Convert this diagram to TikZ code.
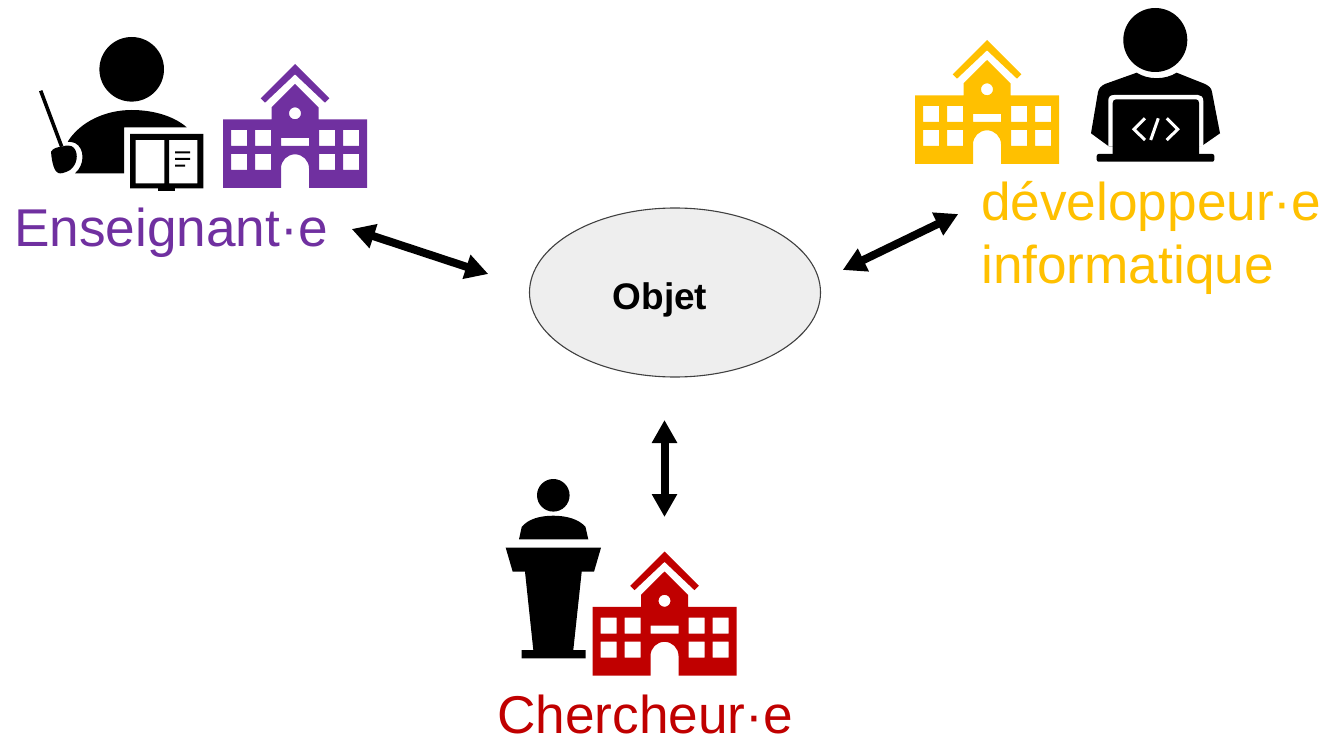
\documentclass[tikz,border=0pt]{standalone}
\usepackage{fontspec}
\setmainfont{Liberation Sans}
\usetikzlibrary{arrows.meta,shapes.geometric}
\definecolor{cpurple}{HTML}{7030A0}
\definecolor{cyellow}{HTML}{FFC000}
\definecolor{cred}{HTML}{C00000}
\definecolor{cobj}{HTML}{EEEEEE}
\tikzset{
 role/.style={inner sep=0pt,anchor=base west,font=\fontsize{53.2}{53.2}\selectfont},
 link/.style={line width=8pt,{Triangle[length=23pt,width=24pt]}-{Triangle[length=23pt,width=24pt]}},
 school/.pic={
  \fill[pic actions] (-34.3,34.3)--(0,0)--(34.3,34.3)--(30,38.7)--(0,10.3)--(-30,38.7)--cycle;
  \fill[pic actions,even odd rule] (0,20)--(-23.5,43.3)--(-23.5,55.3)--(-72,55.3)--(-72,124)--(-14,124)--(-14,104.3) arc[start angle=180,end angle=360,radius=14]--(14,124)--(72,124)--(72,55.3)--(23.5,55.3)--(23.5,43.3)--cycle
   (0,49.3) circle[radius=6]
   (-64,66) rectangle (-48,82) (-40,66) rectangle (-24,82) (24,66) rectangle (40,82) (48,66) rectangle (64,82)
   (-64,90) rectangle (-48,106) (-40,90) rectangle (-24,106) (24,90) rectangle (40,106) (48,90) rectangle (64,106)
   (-14,74) rectangle (14,82);
 }
}
\begin{document}
\begin{tikzpicture}[x=1pt,y=-1pt]
\useasboundingbox (0,0) rectangle (1326,741);
% schools
\pic[fill=cpurple] at (295,64) {school};
\pic[fill=cyellow] at (987,40) {school};
\pic[fill=cred] at (664.5,551.5) {school};
% teacher
\fill (131.7,69.3) circle[radius=32.3];
\fill (67.7,141.7) .. controls (80,122) and (105,110) .. (131.7,110) .. controls (155,110) and (175,117) .. (186.7,127.3) -- (124,127.3) -- (124,173.3) -- (75,173.3) .. controls (85,165) and (85,148) .. (75,143) .. controls (73,142) and (70,142) .. cycle;
\draw[line width=3.6pt] (40.7,90.7) -- (61.7,146.7);
\fill (51,151.7) .. controls (53,148) and (58,147) .. (61.7,146.7) .. controls (66,145) and (72,145) .. (74,148) .. controls (79,154) and (77,165) .. (70,170) .. controls (65,173) and (60,174) .. (58.3,173) .. controls (55,172) and (52,165) .. cycle;
\fill[even odd rule] (130,134) rectangle (203.3,188.3) (135.7,140) rectangle (164.3,183.3) (169,140) rectangle (197.3,183.3);
\fill (158.3,188) rectangle (175,191.5);
\fill (175,151.3) rectangle (190,153.3) (175,158) rectangle (190,160) (175,164.7) rectangle (185,166.7);
% developer
\fill (1155.3,40) circle[radius=32];
\fill (1136.7,72.7) .. controls (1148,80) and (1165,80) .. (1176.7,72.7) -- (1205,84) .. controls (1209,86) and (1211.5,88) .. (1212,92) -- (1220,133.3) -- (1201.7,146) -- (1109.3,146.7) -- (1091,133.3) -- (1098,92) .. controls (1099,88) and (1101,86) .. (1105,84) -- cycle;
\fill[white] (1108.3,146.7) -- (1108.3,101) .. controls (1108.3,97) and (1110,95) .. (1114,95) -- (1198,95) .. controls (1201,95) and (1203.3,97) .. (1203.3,101) -- (1203.3,146.7) -- cycle;
\fill (1112.7,154) -- (1112.7,103) .. controls (1112.7,101) and (1114,99.3) .. (1116,99.3) -- (1196,99.3) .. controls (1198,99.3) and (1199,101) .. (1199,103) -- (1199,154) -- cycle;
\fill[rounded corners=2pt] (1096.7,154) rectangle (1214.3,161.7);
\draw[white,line width=3pt] (1145,118.3) -- (1134,129.3) -- (1145,140) (1158.3,118.3) -- (1150.7,140) (1166.7,118.3) -- (1177.7,129.3) -- (1166.7,140);
% researcher
\fill (553.3,495.3) circle[radius=16.3];
\fill (519,539.3) -- (521.7,527) .. controls (528,519) and (540,515.7) .. (553.3,515.7) .. controls (566,515.7) and (579,519) .. (585.5,527) -- (588.3,539.3) -- cycle;
\fill (505.7,547.7) -- (601,547.7) -- (594,571.7) -- (581.7,571.7) -- (573.3,650) -- (585.7,650) -- (585.7,658.3) -- (521.7,658.3) -- (521.7,650) -- (533.3,650) -- (525,571.7) -- (512.7,571.7) -- cycle;
% object
\node[draw=black!75,line width=1.1pt,fill=cobj,ellipse,minimum width=291pt,minimum height=169pt,inner sep=0pt] (obj) at (675,292.5) {};
\node[inner sep=0pt,font=\fontsize{37}{37}\selectfont\bfseries] (objl) at (660,300) {Objet};
% labels
\node[role,text=cpurple] (ens) at (14,246) {Enseignant·e};
\node[role,text=cyellow] (dev) at (981,220) {développeur·e};
\node[role,text=cyellow] (inf) at (981,283) {informatique};
\node[role,text=cred] (che) at (497,733) {Chercheur·e};
% connectors
\coordinate (a1) at (351.7,229); \coordinate (a2) at (488.3,274);
\coordinate (b1) at (842.7,270); \coordinate (b2) at (958.3,214);
\coordinate (c1) at (664.5,420); \coordinate (c2) at (664.5,517);
\draw[link] (a1) -- (a2);
\draw[link] (b1) -- (b2);
\draw[link] (c1) -- (c2);
\end{tikzpicture}
\end{document}
